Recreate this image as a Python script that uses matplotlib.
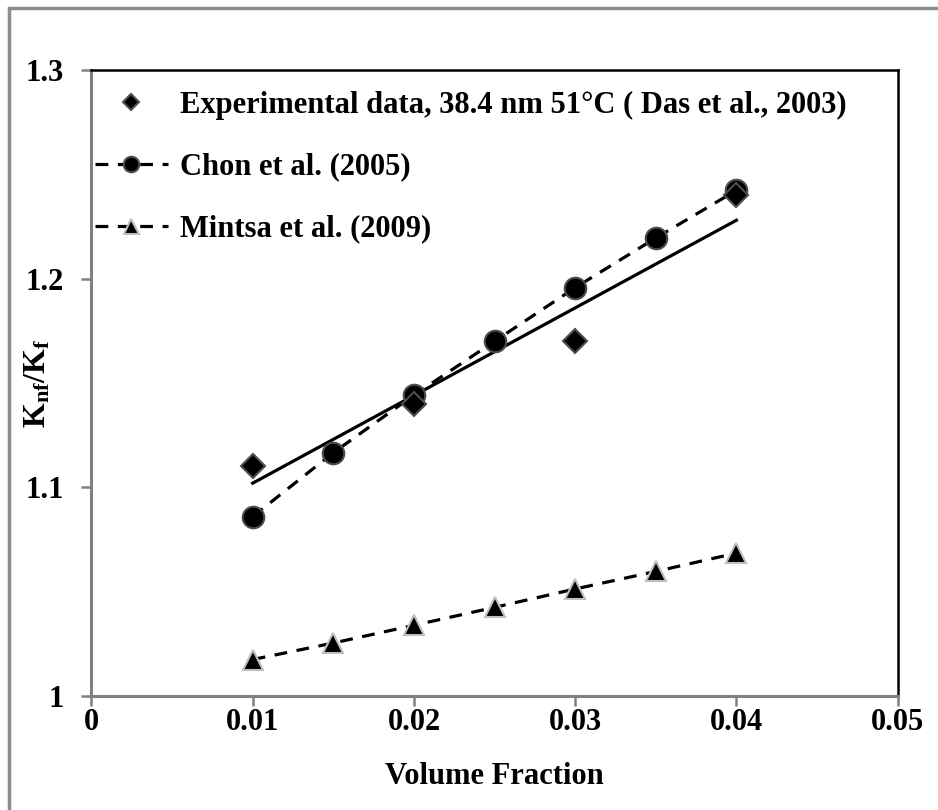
import matplotlib.pyplot as plt
import numpy as np
from matplotlib.patches import Rectangle

plt.rcParams["font.family"] = ["Liberation Serif", "DejaVu Serif"]
plt.rcParams["font.weight"] = "bold"
plt.rcParams["mathtext.fontset"] = "custom"
plt.rcParams["mathtext.rm"] = "Liberation Serif"
plt.rcParams["mathtext.bf"] = "Liberation Serif:bold"

# Datos experimentales y modelos
phi_exp = [0.01, 0.02, 0.03, 0.04]
k_exp = [1.11, 1.14, 1.17, 1.24]

phi_model = [0.01, 0.015, 0.02, 0.025, 0.03, 0.035, 0.04]
k_chon = [1.086, 1.1166, 1.1442, 1.170, 1.1957, 1.2195, 1.2423]
k_mintsa = [1.0175, 1.0254, 1.0339, 1.0425, 1.0513, 1.0597, 1.0685]

x_ticks = [0, 0.01, 0.02, 0.03, 0.04, 0.05]
x_ticklabels = ["0", "0.01", "0.02", "0.03", "0.04", "0.05"]
y_ticks = [1.0, 1.1, 1.2, 1.3]
y_ticklabels = ["1", "1.1", "1.2", "1.3"]

labels = [
    "Experimental data, 38.4 nm 51°C ( Das et al., 2003)",
    "Chon et al. (2005)",
    "Mintsa et al. (2009)",
]

fig = plt.figure(figsize=(9.38, 8.10), dpi=100)
ax = fig.add_axes([0.0975, 0.1407, 0.8595, 0.7729])

# tendencia lineal de los datos experimentales
slope, intercept = np.polyfit(phi_exp, k_exp, 1)
fit_x = np.array([phi_exp[0], phi_exp[-1]])
ax.plot(fit_x, slope * fit_x + intercept, color="black", linewidth=2.3, zorder=2)

ax.plot(phi_exp, k_exp, linestyle="none", marker="D", markersize=12,
        markerfacecolor="black", markeredgecolor="#4d4d4d", markeredgewidth=1.5,
        label=labels[0], zorder=4)
ax.plot(phi_model, k_chon, linestyle=(0, (4, 3)), color="black", linewidth=2.3,
        marker="o", markersize=15.5, markerfacecolor="black",
        markeredgecolor="#4d4d4d", markeredgewidth=1.5, label=labels[1], zorder=3)
ax.plot(phi_model, k_mintsa, linestyle=(0, (4, 3)), color="black", linewidth=2.3,
        marker="^", markersize=15, markerfacecolor="black",
        markeredgecolor="#bfbfbf", markeredgewidth=1.5, label=labels[2], zorder=3)

ax.set_xlim(0, 0.05)
ax.set_ylim(1.0, 1.3)
ax.set_xticks(x_ticks)
ax.set_xticklabels(x_ticklabels)
ax.set_yticks(y_ticks)
ax.set_yticklabels(y_ticklabels)
ax.tick_params(axis="both", direction="out", length=7, width=1.8, color="#808080",
               labelsize=22)
ax.tick_params(axis="x", pad=1.5)
ax.tick_params(axis="y", pad=13)

for side in ("left", "bottom"):
    ax.spines[side].set_color("#808080")
    ax.spines[side].set_linewidth(2.2)
for side in ("top", "right"):
    ax.spines[side].set_color("black")
    ax.spines[side].set_linewidth(1.8)

ax.set_xlabel("Volume Fraction", fontsize=22, fontweight="bold", va="center")
ax.xaxis.set_label_coords(0.5, -0.129)
ax.set_ylabel(r"$\mathbf{K_{nf}/K_f}$", fontsize=23, va="center")
ax.yaxis.set_label_coords(-0.066, 0.5)

ax.legend(loc="upper left", frameon=False, fontsize=22, handlelength=2.4,
          handletextpad=0.4, labelspacing=1.08, borderpad=0.1, borderaxespad=0.0,
          markerscale=0.72, bbox_to_anchor=(0.0, 0.972))

# marco exterior gris
fig.patches.append(Rectangle((9 / 938, -0.1), 1.2, 1.1 - 8 / 810,
                             transform=fig.transFigure, fill=False,
                             edgecolor="#8c8c8c", linewidth=2.5))

fig.savefig("out.png", dpi=100)
